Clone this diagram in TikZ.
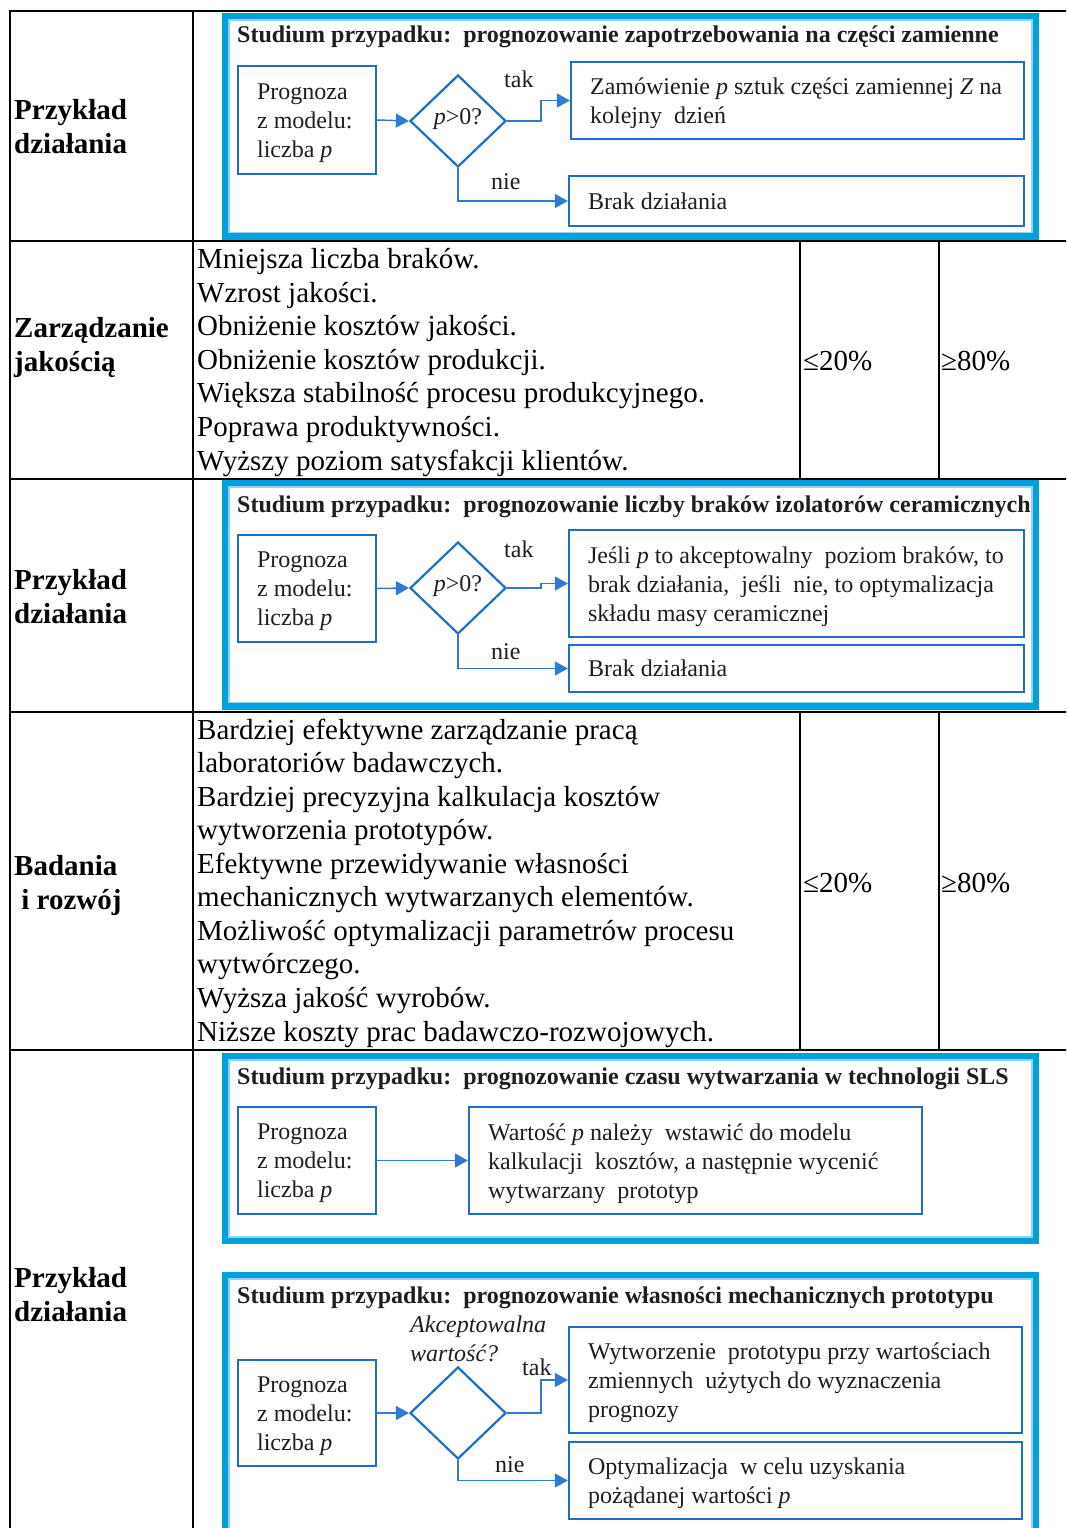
\documentclass[tikz,border=0pt]{standalone}
\usepackage{fontspec}
\setmainfont{Liberation Serif}
\usetikzlibrary{arrows.meta,shapes.geometric}
\definecolor{frameblue}{RGB}{0,160,220}
\definecolor{framelight}{RGB}{150,210,238}
\definecolor{boxblue}{RGB}{30,110,200}
\definecolor{linkblue}{RGB}{50,122,208}
\definecolor{textgray}{RGB}{30,30,30}
\begin{document}
\begin{tikzpicture}[x=1pt,y=-1pt,
  grid/.style={line width=2pt,black},
  frame/.style={draw=frameblue,line width=6.5pt},
  frameedge/.style={draw=framelight,line width=1.2pt},
  fbox/.style={draw=boxblue,line width=2.2pt,inner sep=0pt,fill=white},
  dia/.style={diamond,draw=boxblue,line width=2.2pt,inner sep=0pt,fill=white,
    minimum width=96pt,minimum height=92pt,font=\fontsize{24}{29}\selectfont,text=textgray},
  link/.style={draw=linkblue,line width=1.5pt,-{Triangle[length=13pt,width=14pt]}},
  ftext/.style={font=\fontsize{24}{29}\selectfont,text=textgray,align=left,inner sep=0pt},
  ttitle/.style={font=\bfseries\fontsize{24}{29}\selectfont,text=textgray,inner sep=0pt,anchor=base west},
  cell/.style={font=\fontsize{29}{33.55}\selectfont,align=left,inner sep=0pt,anchor=base west},
  head/.style={font=\bfseries\fontsize{29}{34}\selectfont,align=left,inner sep=0pt,anchor=base west},
]
\useasboundingbox (0,0) rectangle (1066,1528);
\fill[white] (0,0) rectangle (1066,1528);
\begin{scope}
\clip (0,0) rectangle (1066,1528);

% ---------- table rules ----------
\foreach \yy in {11,241,479,712,1050} \draw[grid] (10,\yy) -- (1070,\yy);
\draw[grid] (10,10) -- (10,1535);
\draw[grid] (193,10) -- (193,1535);
\foreach \xx in {800,939} {
  \draw[grid] (\xx,241) -- (\xx,479);
  \draw[grid] (\xx,712) -- (\xx,1050);
}

% ---------- first column headings (anchored on the last line) ----------
\node[head] (h1) at (14,153) {Przykład\\działania};
\node[head] (h2) at (14,371) {Zarządzanie\\jakością};
\node[head] (h3) at (14,623) {Przykład\\działania};
\node[head] (h4) at (14,909) {Badania\\\hspace*{0.25em}i rozwój};
\node[head] (h5) at (14,1321) {Przykład\\działania};

% ---------- benefits and shares ----------
\node[cell] (q1) at (197,470) {Mniejsza liczba braków.\\Wzrost jakości.\\Obniżenie kosztów jakości.\\Obniżenie kosztów produkcji.\\Większa stabilność procesu produkcyjnego.\\Poprawa produktywności.\\Wyższy poziom satysfakcji klientów.};
\node[cell] (q2) at (803,370) {≤20\%};
\node[cell] (q3) at (941,370) {≥80\%};
\node[cell] (r1) at (197,1041) {Bardziej efektywne zarządzanie pracą\\laboratoriów badawczych.\\Bardziej precyzyjna kalkulacja kosztów\\wytworzenia prototypów.\\Efektywne przewidywanie własności\\mechanicznych wytwarzanych elementów.\\Możliwość optymalizacji parametrów procesu\\wytwórczego.\\Wyższa jakość wyrobów.\\Niższe koszty prac badawczo-rozwojowych.};
\node[cell] (r2) at (803,892) {≤20\%};
\node[cell] (r3) at (941,892) {≥80\%};

% ---------- case study 1 ----------
\draw[frame] (225,16) rectangle (1036,236.5);
\draw[frameedge] (229,20) rectangle (1032,232.5);
\node[ttitle] (t1) at (237,43) {Studium przypadku:\ \ prognozowanie zapotrzebowania na części zamienne};
\node[fbox,minimum width=138pt,minimum height=108pt] (a1) at (307,120) {};
\node[ftext,anchor=west] (a1t) at ([xshift=20pt,yshift=-3pt]a1.west) {Prognoza\\z modelu:\\liczba \textit{p}};
\node[dia] (d1) at (458,121) {\raisebox{8pt}{\textit{p}>0?}};
\node[fbox,minimum width=453pt,minimum height=77pt] (z1) at (797.5,100.5) {};
\node[ftext,anchor=west] (z1t) at ([xshift=20pt,yshift=-3pt]z1.west) {Zamówienie \textit{p} sztuk części zamiennej \textit{Z} na\\kolejny\ \ dzień};
\node[fbox,minimum width=455pt,minimum height=50pt] (b1) at (796.5,201) {};
\node[ftext,anchor=west] (b1t) at ([xshift=20pt]b1.west) {Brak działania};
\draw[link] (a1.east) -- (d1.west);
\draw[link] (d1.east) -- ++(34,0) |- (z1.west);
\draw[link] (d1.south) |- (b1.west);
\node[ftext,anchor=base west] (k1) at (504,87) {tak};
\node[ftext,anchor=base west] (n1) at (491,189) {nie};

% ---------- case study 2 ----------
\draw[frame] (225,483) rectangle (1036,706.5);
\draw[frameedge] (229,487) rectangle (1032,702.5);
\node[ttitle] (t2) at (237,512) {Studium przypadku:\ \ prognozowanie liczby braków izolatorów ceramicznych};
\node[fbox,minimum width=138pt,minimum height=107pt] (a2) at (307,588.5) {};
\node[ftext,anchor=west] (a2t) at ([xshift=20pt,yshift=-3pt]a2.west) {Prognoza\\z modelu:\\liczba \textit{p}};
\node[dia] (d2) at (458,588) {\raisebox{8pt}{\textit{p}>0?}};
\node[fbox,minimum width=455pt,minimum height=107pt] (j2) at (796.5,583.5) {};
\node[ftext,anchor=west] (j2t) at ([xshift=20pt,yshift=-3pt]j2.west) {Jeśli \textit{p} to akceptowalny\ \ poziom braków, to\\brak działania,\ \ jeśli\ \ nie, to optymalizacja\\składu masy ceramicznej};
\node[fbox,minimum width=455pt,minimum height=47pt] (b2) at (796.5,668.5) {};
\node[ftext,anchor=west] (b2t) at ([xshift=20pt]b2.west) {Brak działania};
\draw[link] (a2.east) -- (d2.west);
\draw[link] (d2.east) -- ++(34,0) |- (j2.west);
\draw[link] (d2.south) |- (b2.west);
\node[ftext,anchor=base west] (k2) at (504,557) {tak};
\node[ftext,anchor=base west] (n2) at (491,659) {nie};

% ---------- case study 3 ----------
\draw[frame] (225,1056) rectangle (1036,1241);
\draw[frameedge] (229,1060) rectangle (1032,1237);
\node[ttitle] (t3) at (237,1084) {Studium przypadku:\ \ prognozowanie czasu wytwarzania w technologii SLS};
\node[fbox,minimum width=138pt,minimum height=107pt] (a3) at (307,1160.5) {};
\node[ftext,anchor=west] (a3t) at ([xshift=20pt,yshift=-3pt]a3.west) {Prognoza\\z modelu:\\liczba \textit{p}};
\node[fbox,minimum width=453pt,minimum height=107pt] (w3) at (695.5,1160.5) {};
\node[ftext,anchor=west] (w3t) at ([xshift=20pt,yshift=-3pt]w3.west) {Wartość \textit{p} należy\ \ wstawić do modelu\\kalkulacji\ \ kosztów, a następnie wycenić\\wytwarzany\ \ prototyp};
\draw[link] (a3.east) -- (w3.west);

% ---------- case study 4 ----------
\draw[frame] (225,1275) rectangle (1036,1535);
\draw[frameedge] (229,1279) rectangle (1032,1531);
\node[ttitle] (t4) at (237,1303) {Studium przypadku:\ \ prognozowanie własności mechanicznych prototypu};
\node[ftext,anchor=base west,font=\itshape\fontsize{24}{29}\selectfont] (q4) at (410,1361) {Akceptowalna\\wartość?};
\node[fbox,minimum width=138pt,minimum height=106pt] (a4) at (307,1413) {};
\node[ftext,anchor=west] (a4t) at ([xshift=20pt,yshift=-3pt]a4.west) {Prognoza\\z modelu:\\liczba \textit{p}};
\node[dia] (d4) at (458,1413) {};
\node[fbox,minimum width=453pt,minimum height=106pt] (p4) at (795.5,1380) {};
\node[ftext,anchor=west] (p4t) at ([xshift=20pt,yshift=-3pt]p4.west) {Wytworzenie\ \ prototypu przy wartościach\\zmiennych\ \ użytych do wyznaczenia\\prognozy};
\node[fbox,minimum width=453pt,minimum height=77pt] (o4) at (795.5,1480.5) {};
\node[ftext,anchor=west] (o4t) at ([xshift=20pt,yshift=-3pt]o4.west) {Optymalizacja\ \ w celu uzyskania\\pożądanej wartości \textit{p}};
\draw[link] (a4.east) -- (d4.west);
\draw[link] (d4.east) -- ++(34,0) |- (p4.west);
\draw[link] (d4.south) |- (o4.west);
\node[ftext,anchor=base west] (k4) at (522,1375) {tak};
\node[ftext,anchor=base west] (n4) at (495,1472) {nie};
\end{scope}
\end{tikzpicture}
\end{document}
